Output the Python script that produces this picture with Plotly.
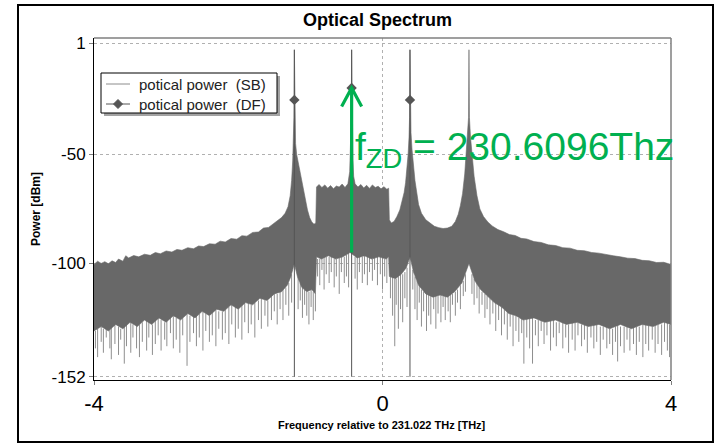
import plotly.graph_objects as go

# ---------------------------------------------------------------------------
# Optical spectrum, frequency relative to 231.022 THz
# ---------------------------------------------------------------------------

# Upper envelope of the sideband (SB) noise spectrum [THz, dBm]
UPPER_F = [
    -4.00, -3.95, -3.90, -3.85, -3.80, -3.75, -3.70, -3.66, -3.60, -3.56,
    -3.52, -3.45, -3.38, -3.30, -3.22, -3.15, -3.08, -3.00, -2.92, -2.85,
    -2.78, -2.70, -2.62, -2.55, -2.48, -2.40, -2.32, -2.25, -2.18, -2.10,
    -2.02, -1.95, -1.88, -1.80, -1.72, -1.65, -1.58, -1.52, -1.46, -1.40,
    -1.35, -1.31, -1.28, -1.26, -1.245, -1.235, -1.228, -1.222, -1.216, -1.205,
    -1.19, -1.16, -1.13, -1.10, -1.07, -1.04, -1.01, -0.98, -0.95, -0.925,
    -0.915, -0.88, -0.84, -0.80, -0.76, -0.72, -0.68, -0.64, -0.60, -0.56,
    -0.52, -0.48, -0.455, -0.445, -0.437, -0.433, -0.428, -0.423, -0.418, -0.41,
    -0.40, -0.38, -0.34, -0.30, -0.26, -0.22, -0.18, -0.14, -0.10, -0.06,
    -0.02, 0.02, 0.06, 0.085, 0.095, 0.12, 0.16, 0.20, 0.24, 0.27,
    0.30, 0.32, 0.34, 0.355, 0.368, 0.375, 0.381, 0.387, 0.395, 0.41,
    0.43, 0.45, 0.50, 0.54, 0.60, 0.66, 0.72, 0.78, 0.84, 0.90,
    0.96, 1.01, 1.05, 1.08, 1.11, 1.14, 1.16, 1.18, 1.193, 1.199,
    1.205, 1.22, 1.24, 1.27, 1.31, 1.35, 1.40, 1.46, 1.52, 1.60,
    1.68, 1.76, 1.84, 1.92, 2.00, 2.10, 2.20, 2.30, 2.40, 2.50,
    2.60, 2.70, 2.80, 2.90, 3.00, 3.10, 3.20, 3.30, 3.40, 3.50,
    3.60, 3.70, 3.80, 3.90, 4.00,
]
UPPER_DBM = [
    -100.5, -99.0, -100.0, -99.2, -100.2, -98.8, -99.6, -98.0, -99.0, -96.5,
    -97.5, -96.4, -97.0, -95.8, -96.3, -95.0, -95.6, -94.3, -94.8, -93.6,
    -94.0, -92.8, -93.3, -92.0, -92.3, -91.0, -91.2, -89.8, -90.2, -88.6,
    -88.9, -87.3, -87.5, -85.8, -85.6, -83.8, -83.5, -82.0, -80.8, -79.0,
    -77.0, -74.0, -69.0, -62.0, -53.0, -45.0, -33.0, -2.0, -33.0, -45.0,
    -50.0, -55.0, -61.0, -66.0, -70.5, -75.5, -79.0, -81.0, -82.0, -81.5,
    -65.0, -63.8, -65.2, -64.0, -65.5, -64.3, -65.8, -64.5, -65.0, -63.6,
    -65.2, -63.5, -58.0, -50.0, -40.0, -33.0, -2.0, -33.0, -42.0, -52.0,
    -60.0, -63.5, -65.0, -63.8, -65.4, -64.2, -65.6, -64.0, -65.2, -64.6,
    -65.8, -64.8, -66.0, -65.5, -80.0, -81.5, -80.8, -78.5, -75.5, -72.0,
    -67.5, -63.0, -57.0, -50.0, -42.0, -33.0, -2.0, -33.0, -40.0, -48.0,
    -56.0, -62.0, -73.0, -77.0, -80.0, -81.5, -83.0, -83.6, -84.0, -83.8,
    -83.0, -80.8, -77.5, -73.5, -68.0, -59.0, -50.0, -41.0, -33.0, -2.0,
    -33.0, -42.0, -50.0, -60.0, -69.0, -75.0, -78.5, -81.0, -82.8, -84.5,
    -85.5, -86.8, -87.2, -88.5, -88.8, -90.0, -90.4, -91.5, -91.8, -92.8,
    -93.0, -94.0, -94.2, -95.0, -95.3, -96.0, -96.5, -97.0, -97.6, -97.8,
    -98.6, -98.8, -99.6, -99.5, -100.5,
]

# Lower edge of the dense SB noise band [THz, dBm]
LOWER_F = [
    -4.00, -3.90, -3.80, -3.70, -3.60, -3.50, -3.40, -3.30, -3.20, -3.10,
    -3.00, -2.90, -2.80, -2.70, -2.60, -2.50, -2.40, -2.30, -2.20, -2.10,
    -2.00, -1.90, -1.80, -1.70, -1.60, -1.50, -1.40, -1.32, -1.27, -1.222,
    -1.18, -1.12, -1.05, -0.98, -0.93, -0.915, -0.85, -0.75, -0.65, -0.55,
    -0.45, -0.35, -0.25, -0.15, -0.05, 0.05, 0.085, 0.095, 0.18, 0.26,
    0.33, 0.381, 0.43, 0.50, 0.60, 0.70, 0.80, 0.90, 1.00, 1.10,
    1.199, 1.28, 1.36, 1.45, 1.55, 1.65, 1.75, 1.85, 1.95, 2.10,
    2.25, 2.40, 2.55, 2.70, 2.85, 3.00, 3.15, 3.30, 3.45, 3.60,
    3.75, 3.90, 4.00,
]
LOWER_DBM = [
    -131, -129, -131, -128, -130, -127, -129, -126, -128, -125,
    -127, -124, -126, -123, -125, -122, -124, -121, -122, -119,
    -121, -118, -119, -116, -117, -114, -113, -110, -106, -100,
    -106, -111, -113, -112, -114, -97, -98, -96.5, -98, -97,
    -95, -97.5, -96.5, -98, -97, -98, -97, -106, -107, -105,
    -102, -97, -104, -110, -114, -115.5, -114.5, -115.5, -113, -109,
    -100, -108, -112, -115, -118, -120, -123, -124, -126, -125,
    -127, -126, -128, -127, -129, -128, -130, -128, -130, -128,
    -129, -127, -128,
]

# Single-bin dips below the noise band: frequency, start level, end level
SPIKE_F = [
    -3.98, -3.95, -3.90, -3.87, -3.83, -3.78, -3.76, -3.71, -3.66, -3.63,
    -3.58, -3.55, -3.49, -3.46, -3.41, -3.37, -3.33, -3.27, -3.24, -3.19,
    -3.15, -3.11, -3.07, -3.02, -2.99, -2.94, -2.90, -2.86, -2.81, -2.77,
    -2.71, -2.67, -2.62, -2.58, -2.54, -2.49, -2.45, -2.40, -2.36, -2.31,
    -2.27, -2.22, -2.18, -2.13, -2.09, -2.04, -2.00, -1.95, -1.91, -1.86,
    -1.82, -1.77, -1.72, -1.68, -1.63, -1.59, -1.54, -1.50, -1.46, -1.42,
    -1.38, -1.34, -1.30, -1.26,
    -1.17, -1.14, -1.11, -1.08, -1.05, -1.02, -0.99, -0.96, -0.93,
    -0.90, -0.87, -0.84, -0.81, -0.78, -0.74, -0.71, -0.67, -0.64, -0.60,
    -0.57, -0.53, -0.50, -0.47, -0.38, -0.35, -0.32, -0.28, -0.25, -0.21,
    -0.18, -0.14, -0.11, -0.07, -0.03, 0.00, 0.03, 0.06,
    0.11, 0.14, 0.17, 0.19, 0.22, 0.25, 0.28, 0.31, 0.34,
    0.42, 0.45, 0.48, 0.51, 0.54, 0.57, 0.61, 0.64, 0.67, 0.71,
    0.74, 0.77, 0.81, 0.84, 0.87, 0.91, 0.94, 0.97, 1.01, 1.04,
    1.08, 1.12, 1.15,
    1.24, 1.27, 1.31, 1.34, 1.38, 1.42, 1.45, 1.49, 1.53, 1.57,
    1.61, 1.65, 1.69, 1.73, 1.77, 1.81, 1.85, 1.89, 1.93, 1.96,
    2.00, 2.04, 2.08, 2.12, 2.16, 2.20, 2.24, 2.28, 2.33, 2.37,
    2.41, 2.45, 2.50, 2.54, 2.58, 2.63, 2.67, 2.71, 2.76, 2.80,
    2.84, 2.89, 2.93, 2.97, 3.02, 3.06, 3.11, 3.15, 3.19, 3.23,
    3.26, 3.30, 3.35, 3.39, 3.43, 3.48, 3.52, 3.56, 3.61, 3.65,
    3.69, 3.74, 3.78, 3.82, 3.87, 3.91, 3.95, 3.98,
]
SPIKE_FROM = [
    -131, -130, -129, -130, -130, -130, -129, -128, -129, -130,
    -129, -128, -127, -128, -128, -128, -127, -126, -127, -128,
    -126, -125, -126, -127, -126, -124, -124, -125, -126, -125,
    -123, -124, -124, -124, -123, -122, -123, -124, -122, -121,
    -122, -122, -121, -120, -119, -120, -121, -119, -118, -118,
    -119, -118, -117, -116, -116, -117, -115, -114, -114, -113,
    -112, -111, -109, -105,
    -106, -109, -111, -112, -113, -113, -112, -113, -114,
    -98, -98, -97, -97, -97, -97, -97, -98, -98, -97,
    -97, -97, -96, -95, -97, -97, -97, -97, -96, -97,
    -97, -98, -97, -97, -97, -97, -98, -97,
    -106, -106, -107, -107, -106, -105, -105, -104, -102,
    -103, -106, -108, -110, -112, -113, -114, -114, -115, -115,
    -115, -115, -114, -115, -115, -115, -114, -114, -113, -112,
    -110, -108, -105,
    -105, -107, -109, -111, -113, -114, -115, -116, -117, -118,
    -119, -120, -121, -122, -123, -123, -124, -125, -125, -126,
    -125, -125, -125, -126, -126, -126, -127, -126, -126, -126,
    -127, -127, -127, -128, -128, -127, -127, -127, -128, -128,
    -129, -128, -128, -128, -129, -129, -129, -130, -130, -129,
    -128, -129, -129, -129, -130, -129, -129, -129, -128, -128,
    -128, -129, -128, -128, -128, -127, -127, -128,
]
SPIKE_TO = [
    -139, -143, -136, -141, -134, -139, -144, -137, -142, -135,
    -146, -138, -141, -134, -139, -143, -136, -140, -134, -142,
    -137, -133, -140, -135, -138, -132, -139, -135, -141, -133,
    -147, -136, -132, -138, -134, -140, -131, -136, -133, -138,
    -130, -135, -132, -137, -128, -134, -130, -135, -127, -132,
    -128, -134, -126, -130, -124, -129, -126, -122, -128, -121,
    -126, -119, -124, -118,
    -121, -117, -125, -119, -124, -128, -120, -126, -122,
    -106, -110, -103, -112, -105, -109, -104, -111, -106, -114,
    -104, -109, -106, -111, -107, -112, -104, -109, -105, -110,
    -104, -108, -103, -110, -105, -112, -106, -109,
    -116, -124, -138, -119, -130, -121, -127, -116, -120,
    -112, -121, -126, -118, -129, -122, -131, -124, -128, -121,
    -130, -123, -127, -120, -126, -122, -127, -119, -124, -118,
    -121, -115, -113,
    -114, -119, -116, -123, -119, -125, -121, -128, -123, -131,
    -126, -133, -128, -135, -129, -138, -131, -136, -132, -146,
    -134, -139, -146, -133, -138, -131, -137, -133, -140, -134,
    -138, -132, -139, -134, -141, -135, -140, -133, -138, -135,
    -141, -134, -139, -136, -142, -135, -139, -137, -142, -136,
    -145, -138, -141, -135, -140, -137, -142, -136, -143, -137,
    -140, -135, -141, -137, -142, -136, -140, -143,
]

# Discrete-frequency (DF) tones: position, marked peak level, drawn span
DF_F = [-1.222, -0.428, 0.381]
DF_PEAK = [-25.0, -19.5, -25.0]
DF_SPAN = [-152.0, -2.0]

# Zero-dispersion marker
ZD_TEXT = "f<sub>ZD</sub> = 230.6096Thz"
ARROW_BASE_DBM = -95.0

# Series names
SB_NAME = "potical power\u00a0 (SB)"
DF_NAME = "potical power\u00a0 (DF)"

# Axes
X_TICKS = [-4, 0, 4]
Y_TICKS = [1, -50, -100, -152]
X_RANGE = [-4, 4]
Y_RANGE = [-153.5, 3.4]

SB_COLOR = "#686868"
SB_LEGEND_COLOR = "#8c8c8c"
SPIKE_COLOR = "#8e8e8e"
DF_COLOR = "#555555"
GREEN = "#00b050"
FONT = "Arial, Liberation Sans, sans-serif"

W, H = 716, 444
M_L, M_R, M_T, M_B = 94, 45, 38, 64
PLOT_W = W - M_L - M_R
PLOT_H = H - M_T - M_B


def px_x(p):
    """Page pixel column -> paper x."""
    return (p - M_L) / PLOT_W


def px_y(p):
    """Page pixel row -> paper y."""
    return (H - M_B - p) / PLOT_H


fig = go.Figure()

# dips under the band
sx, sy = [], []
for f, a, b in zip(SPIKE_F, SPIKE_FROM, SPIKE_TO):
    sx += [f, f, None]
    sy += [a, b, None]
fig.add_trace(go.Scatter(x=sx, y=sy, mode="lines",
                         line=dict(color=SPIKE_COLOR, width=1),
                         showlegend=False, hoverinfo="skip"))

# dense SB noise band
fig.add_trace(go.Scatter(x=UPPER_F + LOWER_F[::-1],
                         y=UPPER_DBM + LOWER_DBM[::-1],
                         mode="lines", fill="toself", fillcolor=SB_COLOR,
                         line=dict(color=SB_COLOR, width=0.6),
                         name=SB_NAME, showlegend=False, hoverinfo="skip"))

# DF tones
dx, dy = [], []
for f in DF_F:
    dx += [f, f, None]
    dy += [DF_SPAN[0], DF_SPAN[1], None]
fig.add_trace(go.Scatter(x=dx, y=dy, mode="lines",
                         line=dict(color=DF_COLOR, width=1),
                         showlegend=False, hoverinfo="skip"))
fig.add_trace(go.Scatter(x=DF_F, y=DF_PEAK, mode="markers",
                         marker=dict(symbol="diamond", size=8, color=DF_COLOR),
                         name=DF_NAME, showlegend=False, hoverinfo="skip"))

zd_f = DF_F[1]
zd_tip = DF_PEAK[1]

# legend box geometry (page pixels)
LEG_L, LEG_R, LEG_T, LEG_B = 101, 277, 73, 113
LEG_ROWS = [84, 104]
LEG_SAMPLE = (106, 130)
LEG_TEXT_X = 137

shapes = [
    # outer frame
    dict(type="rect", xref="paper", yref="paper", x0=px_x(18), x1=px_x(713),
         y0=px_y(442), y1=px_y(5), line=dict(color="black", width=2)),
    # grey top / right plot border
    dict(type="line", xref="paper", yref="paper", x0=0, x1=1, y0=1, y1=1,
         line=dict(color="#7f7f7f", width=1.5)),
    dict(type="line", xref="paper", yref="paper", x0=1, x1=1, y0=0, y1=1,
         line=dict(color="#7f7f7f", width=1.5)),
    # legend: drop shadow, box, line samples, marker
    dict(type="rect", xref="paper", yref="paper", layer="above",
         x0=px_x(LEG_L + 3), x1=px_x(LEG_R + 3), y0=px_y(LEG_B + 3), y1=px_y(LEG_T + 3),
         line=dict(width=0), fillcolor="#a3a3a3"),
    dict(type="rect", xref="paper", yref="paper", layer="above",
         x0=px_x(LEG_L), x1=px_x(LEG_R), y0=px_y(LEG_B), y1=px_y(LEG_T),
         line=dict(color="black", width=1), fillcolor="white"),
    dict(type="line", xref="paper", yref="paper", layer="above",
         x0=px_x(LEG_SAMPLE[0]), x1=px_x(LEG_SAMPLE[1]),
         y0=px_y(LEG_ROWS[0]), y1=px_y(LEG_ROWS[0]),
         line=dict(color=SB_LEGEND_COLOR, width=1)),
    dict(type="line", xref="paper", yref="paper", layer="above",
         x0=px_x(LEG_SAMPLE[0]), x1=px_x(LEG_SAMPLE[1]),
         y0=px_y(LEG_ROWS[1]), y1=px_y(LEG_ROWS[1]),
         line=dict(color=DF_COLOR, width=1)),
    dict(type="path", xref="paper", yref="paper", layer="above",
         xsizemode="pixel", ysizemode="pixel",
         xanchor=px_x(sum(LEG_SAMPLE) / 2), yanchor=px_y(LEG_ROWS[1]),
         path="M-4.5,0 L0,4.5 L4.5,0 L0,-4.5 Z",
         line=dict(color=DF_COLOR, width=1), fillcolor=DF_COLOR),
    # green arrow shaft and open head
    dict(type="line", xref="x", yref="y", x0=zd_f, x1=zd_f,
         y0=ARROW_BASE_DBM, y1=zd_tip, line=dict(color=GREEN, width=3.2)),
    dict(type="path", xref="x", yref="y", xsizemode="pixel", ysizemode="pixel",
         xanchor=zd_f, yanchor=zd_tip, path="M-10,-18.5 L0,0 L10,-18.5",
         line=dict(color=GREEN, width=3.2)),
]

annotations = [
    dict(text="<b>Optical Spectrum</b>", xref="paper", yref="paper",
         x=px_x(377.5), y=px_y(20), xanchor="center", yanchor="middle",
         showarrow=False, font=dict(family=FONT, size=18, color="black")),
    dict(text="<b>Power [dBm]</b>", xref="paper", yref="paper",
         x=px_x(36), y=0.5, xanchor="center", yanchor="middle", textangle=-90,
         showarrow=False, font=dict(family=FONT, size=12, color="black")),
    dict(text="<b>Frequency relative to 231.022 THz [THz]</b>", xref="paper",
         yref="paper", x=px_x(382), y=px_y(425), xanchor="center", yanchor="middle",
         showarrow=False, font=dict(family=FONT, size=11, color="black")),
    dict(text=SB_NAME, xref="paper", yref="paper", x=px_x(LEG_TEXT_X),
         y=px_y(LEG_ROWS[0]), xanchor="left", yanchor="middle", showarrow=False,
         font=dict(family=FONT, size=15, color="#222222")),
    dict(text=DF_NAME, xref="paper", yref="paper", x=px_x(LEG_TEXT_X),
         y=px_y(LEG_ROWS[1]), xanchor="left", yanchor="middle", showarrow=False,
         font=dict(family=FONT, size=15, color="#222222")),
    dict(text=ZD_TEXT, xref="x", yref="y", x=-0.41, y=-47.8,
         xanchor="left", yanchor="middle", showarrow=False,
         font=dict(family=FONT, size=39, color=GREEN)),
]

fig.update_layout(
    width=W, height=H,
    margin=dict(l=M_L, r=M_R, t=M_T, b=M_B),
    paper_bgcolor="white", plot_bgcolor="white",
    font=dict(family=FONT, color="black"),
    shapes=shapes, annotations=annotations,
    showlegend=False,
    xaxis=dict(range=X_RANGE, tickvals=X_TICKS, ticktext=[str(v) for v in X_TICKS],
               showgrid=True, gridcolor="#b0b0b0", griddash="dot", gridwidth=1,
               zeroline=False, showline=True, linecolor="black", linewidth=1,
               ticks="outside", ticklen=4, tickcolor="#7f7f7f",
               tickfont=dict(family=FONT, size=22, color="black")),
    yaxis=dict(range=Y_RANGE, tickvals=Y_TICKS, ticktext=[str(v) for v in Y_TICKS],
               showgrid=True, gridcolor="#b0b0b0", griddash="dot", gridwidth=1,
               zeroline=False, showline=True, linecolor="black", linewidth=1,
               ticks="outside", ticklen=4, tickcolor="#7f7f7f",
               tickfont=dict(family=FONT, size=17, color="black")),
)

fig.write_html("out.html")
